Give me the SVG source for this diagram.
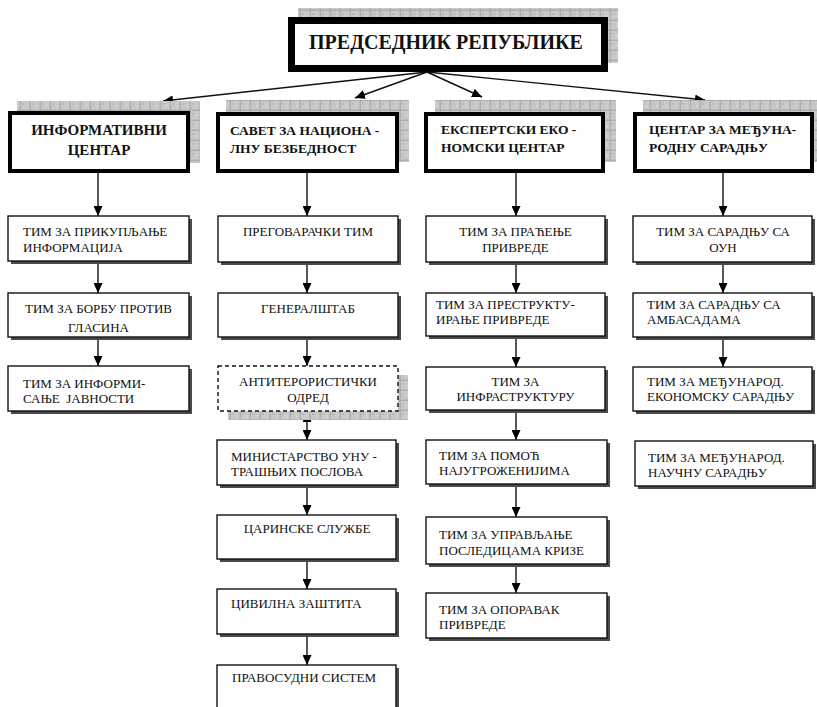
<svg xmlns="http://www.w3.org/2000/svg" width="817" height="707" viewBox="0 0 817 707" font-family="'Liberation Serif', 'Times New Roman', 'DejaVu Serif', serif">
<style>
text{font-family:"Liberation Serif","Times New Roman","DejaVu Serif",serif;fill:#111}
.t{font-size:13px}
.h{font-size:13.5px;font-weight:bold}
.c{text-anchor:middle}
.box{fill:#fff;stroke:#111;stroke-width:1.4}
.sh{fill:#4a4a4a}
.hb{fill:#fff;stroke:#000;stroke-width:4}
.pat{fill:url(#chk)}
.ln{stroke:#111;stroke-width:1.4;fill:none;marker-end:url(#ah)}
</style>
<defs>
<pattern id="chk" width="10" height="10" patternUnits="userSpaceOnUse">
<rect width="10" height="10" fill="#bcbcbc"/>
<rect x="1" y="1" width="8" height="8" fill="#c9c9c9"/>
<path d="M0,0H10M0,0V10" stroke="#a0a0a0" stroke-width="1"/>
<circle cx="3" cy="4" r="0.8" fill="#a4a4a4"/><circle cx="7" cy="6" r="0.8" fill="#dedede"/>
</pattern>
<marker id="ah" markerWidth="11" markerHeight="9" refX="10" refY="4.5" orient="auto-start-reverse" markerUnits="userSpaceOnUse">
<path d="M0,0L10,4.5L0,9z" fill="#000"/>
</marker>
</defs>

<g id="connectors">
<path class="ln" d="M427,72L163,101"/>
<path class="ln" d="M427,72L355,98"/>
<path class="ln" d="M427,72L482,97"/>
<path class="ln" d="M427,72L705,100"/>
<path class="ln" d="M98,173V216"/>
<path class="ln" d="M98,261V293"/>
<path class="ln" d="M98,337V366"/>
<path class="ln" d="M307,173V216"/>
<path class="ln" d="M307,262V293"/>
<path class="ln" d="M307,337V366"/>
<path class="ln" d="M307,412V440" style="marker-start:url(#ah)"/>
<path class="ln" d="M307,485V515"/>
<path class="ln" d="M307,559V589"/>
<path class="ln" d="M307,634V665"/>
<path class="ln" d="M516,173V216"/>
<path class="ln" d="M516,262V293"/>
<path class="ln" d="M516,336V367"/>
<path class="ln" d="M516,410V440"/>
<path class="ln" d="M516,484V517"/>
<path class="ln" d="M516,564V593"/>
<path class="ln" d="M723,173V216"/>
<path class="ln" d="M723,262V293"/>
<path class="ln" d="M723,337V367"/>
</g>

<g id="president">
<rect class="pat" x="298" y="8" width="320" height="55"/>
<rect class="hb" x="291.5" y="20.5" width="313" height="48" style="stroke-width:7"/>
<text x="446" y="49" class="c" style="font-size:20px;font-weight:bold">ПРЕДСЕДНИК РЕПУБЛИКЕ</text>
</g>

<g id="h1">
<rect class="pat" x="17" y="101" width="183" height="62"/>
<rect class="hb" x="10" y="113" width="178" height="58"/>
<text class="c" x="99" y="135" style="font-size:15px;font-weight:bold">ИНФОРМАТИВНИ</text>
<text class="c" x="99" y="155" style="font-size:15px;font-weight:bold">ЦЕНТАР</text>
</g>
<g id="h2">
<rect class="pat" x="226" y="100" width="183" height="62"/>
<rect class="hb" x="218" y="114" width="179" height="57"/>
<text class="h" x="230" y="135">САВЕТ ЗА НАЦИОНА -</text>
<text class="h" x="230" y="153">ЛНУ БЕЗБЕДНОСТ</text>
</g>
<g id="h3">
<rect class="pat" x="435" y="100" width="181" height="62"/>
<rect class="hb" x="426" y="114" width="177" height="57"/>
<text class="h" x="441" y="134">ЕКСПЕРТСКИ ЕКО -</text>
<text class="h" x="441" y="152">НОМСКИ ЦЕНТАР</text>
</g>
<g id="h4">
<rect class="pat" x="643" y="100" width="181" height="62"/>
<rect class="hb" x="635" y="114" width="177" height="57"/>
<text class="h" x="649" y="134">ЦЕНТАР ЗА МЕЂУНА-</text>
<text class="h" x="649" y="152">РОДНУ САРАДЊУ</text>
</g>

<g id="c1b1"><rect class="sh" x="11" y="219" width="181" height="45"/><rect class="box" x="8" y="216" width="181" height="45"/>
<text class="t" x="23" y="236">ТИМ ЗА ПРИКУПЉАЊЕ</text><text class="t" x="23" y="252">ИНФОРМАЦИЈА</text></g>
<g id="c1b2"><rect class="sh" x="11" y="296" width="181" height="44"/><rect class="box" x="8" y="293" width="181" height="44"/>
<text class="t c" x="98.5" y="313">ТИМ ЗА БОРБУ ПРОТИВ</text><text class="t c" x="98.5" y="332">ГЛАСИНА</text></g>
<g id="c1b3"><rect class="sh" x="11" y="369" width="181" height="45"/><rect class="box" x="8" y="366" width="181" height="45"/>
<text class="t" x="23" y="388">ТИМ ЗА ИНФОРМИ-</text><text class="t" x="23" y="403" xml:space="preserve">САЊЕ  ЈАВНОСТИ</text></g>

<g id="c2b1"><rect class="sh" x="221" y="219" width="180" height="46"/><rect class="box" x="218" y="216" width="180" height="46"/>
<text class="t c" x="308" y="236">ПРЕГОВАРАЧКИ ТИМ</text></g>
<g id="c2b2"><rect class="sh" x="221" y="296" width="180" height="44"/><rect class="box" x="218" y="293" width="180" height="44"/>
<text class="t c" x="308" y="313">ГЕНЕРАЛШТАБ</text></g>
<g id="c2b3"><rect class="pat" x="228" y="375" width="180" height="45"/><rect class="box" x="218" y="366" width="180" height="45" style="stroke-dasharray:4 3"/>
<text class="t c" x="308" y="386">АНТИТЕРОРИСТИЧКИ</text><text class="t c" x="308" y="402">ОДРЕД</text></g>
<g id="c2b4"><rect class="sh" x="220" y="443" width="179" height="45"/><rect class="box" x="217" y="440" width="179" height="45"/>
<text class="t" x="231" y="461">МИНИСТАРСТВО УНУ -</text><text class="t" x="231" y="476">ТРАШЊИХ ПОСЛОВА</text></g>
<g id="c2b5"><rect class="sh" x="220" y="518" width="179" height="44"/><rect class="box" x="217" y="515" width="179" height="44"/>
<text class="t c" x="307" y="533">ЦАРИНСКЕ СЛУЖБЕ</text></g>
<g id="c2b6"><rect class="sh" x="220" y="592" width="179" height="45"/><rect class="box" x="217" y="589" width="179" height="45"/>
<text class="t" x="231" y="608">ЦИВИЛНА ЗАШТИТА</text></g>
<g id="c2b7"><rect class="sh" x="220" y="668" width="179" height="45"/><rect class="box" x="217" y="665" width="179" height="45"/>
<text class="t" x="232" y="682">ПРАВОСУДНИ СИСТЕМ</text></g>

<g id="c3b1"><rect class="sh" x="429" y="219" width="179" height="46"/><rect class="box" x="426" y="216" width="179" height="46"/>
<text class="t c" x="515.5" y="236">ТИМ ЗА ПРАЋЕЊЕ</text><text class="t c" x="515.5" y="252">ПРИВРЕДЕ</text></g>
<g id="c3b2"><rect class="sh" x="429" y="296" width="179" height="43"/><rect class="box" x="426" y="293" width="179" height="43"/>
<text class="t" x="436" y="309">ТИМ ЗА ПРЕСТРУКТУ-</text><text class="t" x="436" y="324">ИРАЊЕ ПРИВРЕДЕ</text></g>
<g id="c3b3"><rect class="sh" x="429" y="370" width="179" height="43"/><rect class="box" x="426" y="367" width="179" height="43"/>
<text class="t c" x="515.5" y="386">ТИМ ЗА</text><text class="t c" x="515.5" y="401">ИНФРАСТРУКТУРУ</text></g>
<g id="c3b4"><rect class="sh" x="429" y="443" width="181" height="44"/><rect class="box" x="426" y="440" width="181" height="44"/>
<text class="t" x="439" y="460">ТИМ ЗА ПОМОЋ</text><text class="t" x="439" y="475">НАЈУГРОЖЕНИЈИМА</text></g>
<g id="c3b5"><rect class="sh" x="429" y="520" width="181" height="47"/><rect class="box" x="426" y="517" width="181" height="47"/>
<text class="t" x="439" y="539">ТИМ ЗА УПРАВЉАЊЕ</text><text class="t" x="439" y="555">ПОСЛЕДИЦАМА КРИЗЕ</text></g>
<g id="c3b6"><rect class="sh" x="429" y="596" width="181" height="45"/><rect class="box" x="426" y="593" width="181" height="45"/>
<text class="t" x="439" y="614">ТИМ ЗА ОПОРАВАК</text><text class="t" x="439" y="629">ПРИВРЕДЕ</text></g>

<g id="c4b1"><rect class="sh" x="636" y="219" width="179" height="46"/><rect class="box" x="633" y="216" width="179" height="46"/>
<text class="t c" x="723" y="236">ТИМ ЗА САРАДЊУ СА</text><text class="t c" x="723" y="252">ОУН</text></g>
<g id="c4b2"><rect class="sh" x="636" y="296" width="179" height="44"/><rect class="box" x="633" y="293" width="179" height="44"/>
<text class="t" x="647" y="309">ТИМ ЗА САРАДЊУ СА</text><text class="t" x="647" y="324">АМБАСАДАМА</text></g>
<g id="c4b3"><rect class="sh" x="636" y="370" width="179" height="44"/><rect class="box" x="633" y="367" width="179" height="44"/>
<text class="t" x="647" y="386">ТИМ ЗА МЕЂУНАРОД.</text><text class="t" x="647" y="401">ЕКОНОМСКУ САРАДЊУ</text></g>
<g id="c4b4"><rect class="sh" x="638" y="444" width="178" height="45"/><rect class="box" x="635" y="441" width="178" height="45"/>
<text class="t" x="648" y="462">ТИМ ЗА МЕЂУНАРОД.</text><text class="t" x="648" y="477">НАУЧНУ САРАДЊУ</text></g>
</svg>
